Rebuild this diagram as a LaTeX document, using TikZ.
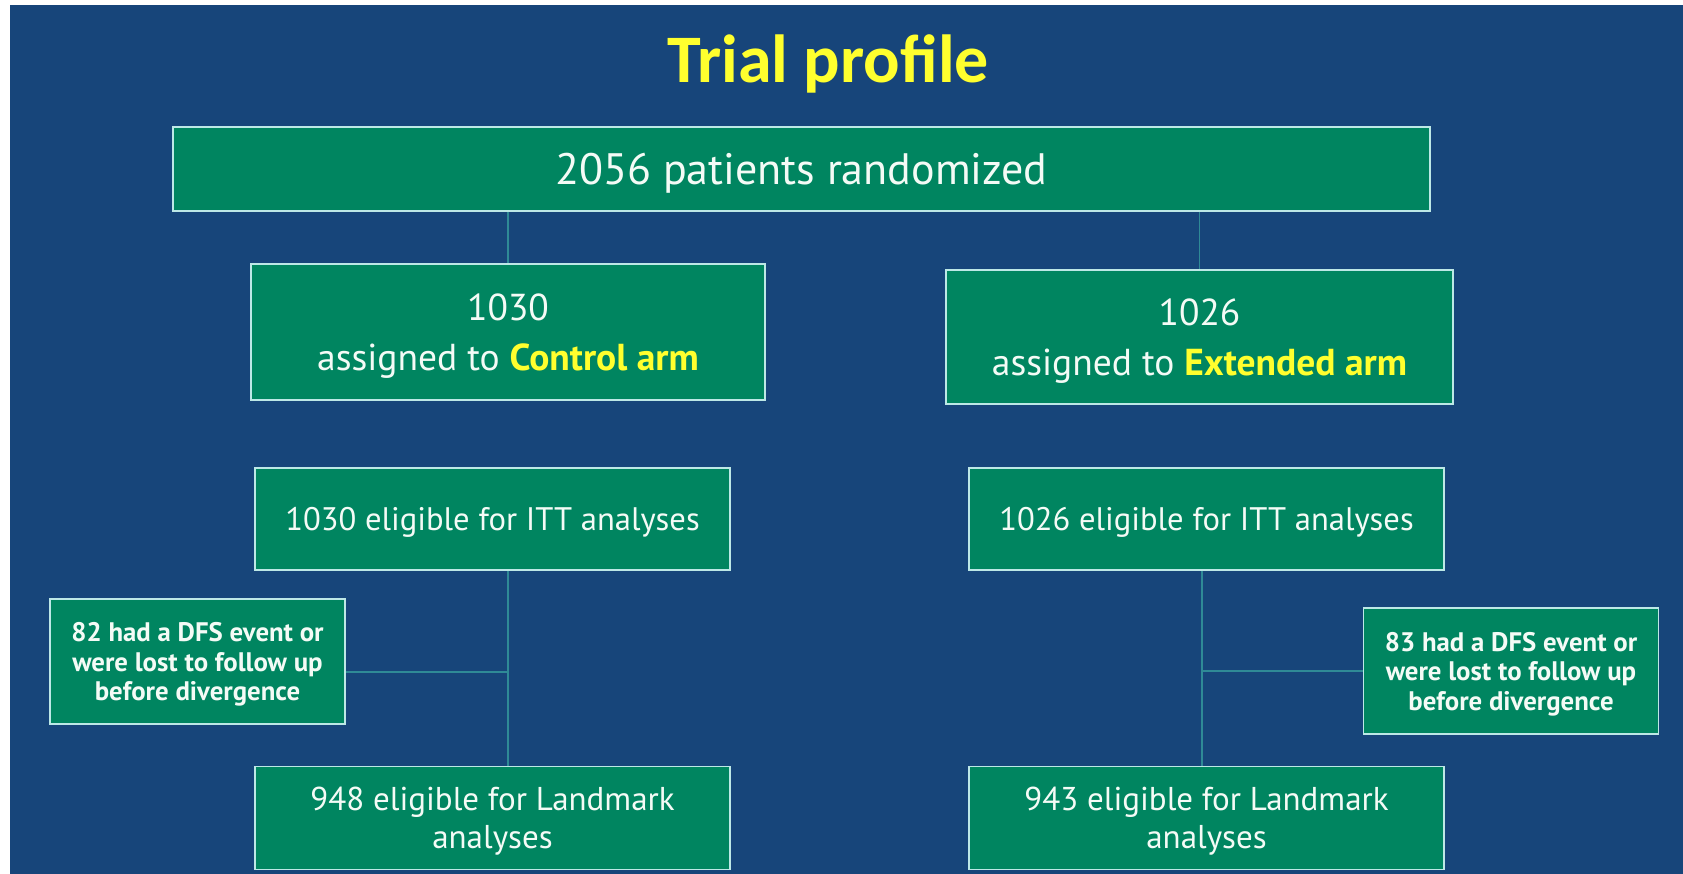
\documentclass[tikz,border=0pt]{standalone}
\usepackage{fontspec}
\setmainfont{PT Sans}
\newfontfamily\headfont{Carlito}
\usetikzlibrary{positioning}

\definecolor{slideblue}{HTML}{17457A}
\definecolor{boxgreen}{HTML}{008560}
\definecolor{boxline}{HTML}{BDE8E6}
\definecolor{linkteal}{HTML}{2F8A96}
\definecolor{hiyellow}{HTML}{FFFF2E}
\definecolor{boxtext}{HTML}{F4FBF6}

\tikzset{
  flowbox/.style={draw=boxline,line width=1.6pt,fill=boxgreen,text=boxtext,
    align=center,inner sep=0pt,text depth=0pt},
  sidebox/.style={flowbox,font=\bfseries\fontsize{26.8}{29.5}\selectfont},
  link/.style={draw=linkteal,line width=1.5pt},
}
\newcommand{\armname}[1]{\textbf{\color{hiyellow}#1}}

\begin{document}
\begin{tikzpicture}[x=1pt,y=-1pt]
  \useasboundingbox (0,0) rectangle (1683,874);
  \fill[white] (0,0) rectangle (1683,874);
  \fill[slideblue] (10,5) rectangle (1683,874);

  \node[anchor=base,text=hiyellow,font=\headfont\bfseries\fontsize{68}{80}\selectfont]
    (title) at (828,83) {Trial profile};

  \node[flowbox,minimum width=1257pt,minimum height=84pt,font=\fontsize{44}{50}\selectfont]
    (top) at (801.5,169) {2056 patients randomized};

  % the two arms
  \node[flowbox,minimum width=514pt,minimum height=136pt,font=\fontsize{37.5}{50}\selectfont]
    (ctrl) at (508,332) {1030\\assigned to \armname{Control arm}};
  \node[flowbox,minimum width=507pt,minimum height=134pt,font=\fontsize{37.5}{50}\selectfont]
    (ext) at (1199.5,337) {1026\\assigned to \armname{Extended arm}};

  \node[flowbox,minimum width=475pt,minimum height=102pt,font=\fontsize{32.6}{38}\selectfont]
    (ittL) at (492.5,519) {1030 eligible for ITT analyses};
  \node[flowbox,minimum width=475pt,minimum height=102pt,font=\fontsize{32.6}{38}\selectfont]
    (ittR) at (1206.5,519) {1026 eligible for ITT analyses};

  % losses before divergence
  \node[sidebox,minimum width=295pt,minimum height=125pt]
    (dfsL) at (197.5,661.5) {82 had a DFS event or\\were lost to follow up\\before divergence};
  \node[sidebox,minimum width=295pt,minimum height=126pt]
    (dfsR) at (1511,671) {83 had a DFS event or\\were lost to follow up\\before divergence};

  \node[flowbox,minimum width=475pt,minimum height=103pt,font=\fontsize{33}{38}\selectfont]
    (lmL) at (492.5,818) {948 eligible for Landmark\\analyses};
  \node[flowbox,minimum width=475pt,minimum height=103pt,font=\fontsize{33}{38}\selectfont]
    (lmR) at (1206.5,818) {943 eligible for Landmark\\analyses};

  \coordinate (jL) at (ctrl.center |- 0,672);
  \coordinate (jR) at (1202,671);

  \draw[link] (top.south -| ctrl) -- (ctrl.north);
  \draw[link] (top.south -| ext) -- (ext.north);
  \draw[link] (ittL.south -| jL) -- (lmL.north -| jL);
  \draw[link] (ittR.south -| jR) -- (lmR.north -| jR);
  \draw[link] (dfsL.east |- jL) -- (jL);
  \draw[link] (jR) -- (dfsR.west |- jR);
\end{tikzpicture}
\end{document}
